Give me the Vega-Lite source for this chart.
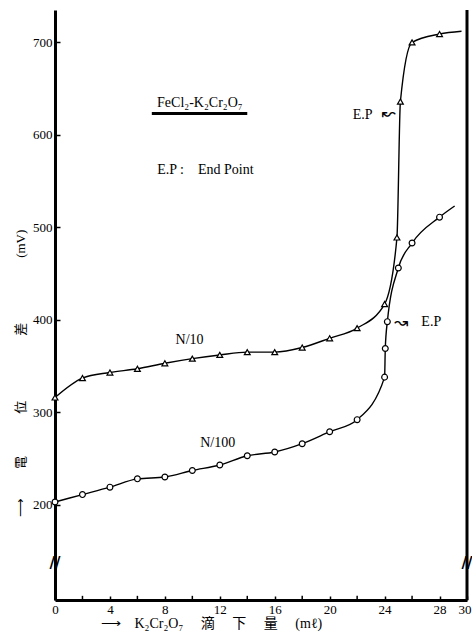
{
  "$schema": "https://vega.github.io/schema/vega-lite/v6.json",
  "width": 412,
  "height": 590,
  "autosize": {"type": "none"},
  "padding": {"left": 55, "top": 10, "right": 5, "bottom": 37},
  "background": "white",
  "config": {
    "view": {"stroke": null},
    "font": "Liberation Serif, serif",
    "axis": {"grid": false, "labelOverlap": false, "labelFlush": false, "labelBound": false}
  },
  "datasets": {
    "curves": [
      {"series": "N/10", "x": 0, "y": 316, "marker": true},
      {"series": "N/10", "x": 2, "y": 337, "marker": true},
      {"series": "N/10", "x": 4, "y": 343, "marker": true},
      {"series": "N/10", "x": 6, "y": 347, "marker": true},
      {"series": "N/10", "x": 8, "y": 353, "marker": true},
      {"series": "N/10", "x": 10, "y": 358, "marker": true},
      {"series": "N/10", "x": 12, "y": 362, "marker": true},
      {"series": "N/10", "x": 14, "y": 365, "marker": true},
      {"series": "N/10", "x": 16, "y": 365, "marker": true},
      {"series": "N/10", "x": 18, "y": 370, "marker": true},
      {"series": "N/10", "x": 20, "y": 380, "marker": true},
      {"series": "N/10", "x": 22, "y": 391, "marker": true},
      {"series": "N/10", "x": 24, "y": 417, "marker": true},
      {"series": "N/10", "x": 24.9, "y": 489, "marker": true},
      {"series": "N/10", "x": 25.15, "y": 636, "marker": true},
      {"series": "N/10", "x": 26, "y": 700, "marker": true},
      {"series": "N/10", "x": 28, "y": 709, "marker": true},
      {"series": "N/10", "x": 29.6, "y": 712, "marker": false},
      {"series": "N/100", "x": 0, "y": 203, "marker": true},
      {"series": "N/100", "x": 2, "y": 211, "marker": true},
      {"series": "N/100", "x": 4, "y": 219, "marker": true},
      {"series": "N/100", "x": 6, "y": 228, "marker": true},
      {"series": "N/100", "x": 8, "y": 230, "marker": true},
      {"series": "N/100", "x": 10, "y": 237, "marker": true},
      {"series": "N/100", "x": 12, "y": 243, "marker": true},
      {"series": "N/100", "x": 14, "y": 253, "marker": true},
      {"series": "N/100", "x": 16, "y": 257, "marker": true},
      {"series": "N/100", "x": 18, "y": 266, "marker": true},
      {"series": "N/100", "x": 20, "y": 279, "marker": true},
      {"series": "N/100", "x": 22, "y": 292, "marker": true},
      {"series": "N/100", "x": 24, "y": 338, "marker": true},
      {"series": "N/100", "x": 24.05, "y": 369, "marker": true},
      {"series": "N/100", "x": 24.2, "y": 398, "marker": true},
      {"series": "N/100", "x": 25, "y": 456, "marker": true},
      {"series": "N/100", "x": 26, "y": 483, "marker": true},
      {"series": "N/100", "x": 28, "y": 511, "marker": true},
      {"series": "N/100", "x": 29.1, "y": 523, "marker": false}
    ],
    "notes": [
      {"x": 10.55, "y": 634, "text": "FeCl₂-K₂Cr₂O₇"},
      {"x": 10.95, "y": 562, "text": "E.P :　End Point"},
      {"x": 9.8, "y": 378, "text": "N/10"},
      {"x": 11.85, "y": 267, "text": "N/100"},
      {"x": 22.4, "y": 621, "text": "E.P"},
      {"x": 27.4, "y": 398, "text": "E.P"}
    ],
    "arrows": [
      {"x": 24.3, "y": 623, "text": "↜"},
      {"x": 25.2, "y": 397, "text": "↝"}
    ],
    "underline": [
      {"x": 7.05, "x2": 14.0, "y": 623}
    ],
    "breaks": [
      {"x": 0, "y": 137},
      {"x": 30, "y": 137}
    ],
    "frame": [
      {"x": 30}
    ],
    "minor": [
      {"x": 2}, {"x": 6}, {"x": 10}, {"x": 14}, {"x": 18}, {"x": 22}, {"x": 26}
    ]
  },
  "layer": [
    {
      "data": {"name": "curves"},
      "mark": {"type": "line", "interpolate": "monotone", "color": "black", "strokeWidth": 1.4},
      "encoding": {
        "x": {
          "field": "x", "type": "quantitative",
          "scale": {"domain": [0, 30], "nice": false, "zero": false},
          "axis": {
            "values": [0, 4, 8, 12, 16, 20, 24, 28, 30],
            "labelOverlap": false, "labelBound": false,
            "labelAlign": {"condition": {"test": "datum.value == 30", "value": "right"}, "value": "center"},
            "labelOffset": {"condition": {"test": "datum.value == 30", "value": 4}, "value": 0},
            "domainWidth": 3, "domainColor": "black",
            "tickSize": -4, "tickColor": "black", "tickWidth": 1.5,
            "labelPadding": 7, "labelFontSize": 13, "labelFont": "Liberation Serif, serif", "labelColor": "black",
            "labelFlush": false,
            "title": "⟶　K₂Cr₂O₇　 滴　  下　 量　 (mℓ)",
            "titleFont": "Liberation Serif, Noto Sans CJK JP, serif",
            "titleFontSize": 14, "titleFontWeight": "normal", "titleColor": "black",
            "titleAnchor": "start", "titleAlign": "left", "titleX": 45, "titleY": 23, "titleBaseline": "middle"
          }
        },
        "y": {
          "field": "y", "type": "quantitative",
          "scale": {"domain": [97, 735], "nice": false, "zero": false},
          "axis": {
            "values": [200, 300, 400, 500, 600, 700],
            "labelOverlap": false,
            "domainWidth": 3, "domainColor": "black",
            "tickSize": -5, "tickColor": "black", "tickWidth": 1.5,
            "labelPadding": 8, "labelFontSize": 13, "labelFont": "Liberation Serif, serif", "labelColor": "black",
            "title": "⟶　　 電　　　 位　　　　　差　　　　　(mV)",
            "titleFont": "Liberation Serif, Noto Sans CJK JP, serif",
            "titleFontSize": 13, "titleFontWeight": "normal", "titleColor": "black",
            "titleAngle": -90, "titleX": -35, "titleY": 363, "titleBaseline": "middle", "titleAlign": "center"
          }
        },
        "detail": {"field": "series"}
      }
    },
    {
      "data": {"name": "curves"},
      "transform": [{"filter": "datum.marker"}],
      "mark": {"type": "point", "filled": true, "fill": "white", "stroke": "black", "strokeWidth": 1.2, "size": 34, "opacity": 1},
      "encoding": {
        "x": {"field": "x", "type": "quantitative"},
        "y": {"field": "y", "type": "quantitative"},
        "shape": {"field": "series", "type": "nominal", "scale": {"domain": ["N/10", "N/100"], "range": ["triangle-up", "circle"]}, "legend": null}
      }
    },
    {
      "data": {"name": "minor"},
      "mark": {"type": "rule", "color": "black", "strokeWidth": 1.5},
      "encoding": {
        "x": {"field": "x", "type": "quantitative"},
        "y": {"datum": 97},
        "y2": {"datum": 101.5}
      }
    },
    {
      "data": {"name": "frame"},
      "mark": {"type": "rule", "color": "black", "strokeWidth": 3},
      "encoding": {"x": {"field": "x", "type": "quantitative"}}
    },
    {
      "data": {"name": "underline"},
      "mark": {"type": "rule", "color": "black", "strokeWidth": 3},
      "encoding": {
        "x": {"field": "x", "type": "quantitative"},
        "x2": {"field": "x2"},
        "y": {"field": "y", "type": "quantitative"}
      }
    },
    {
      "data": {"name": "notes"},
      "mark": {"type": "text", "font": "Liberation Serif, serif", "fontSize": 14, "color": "black", "align": "center", "baseline": "middle"},
      "encoding": {
        "x": {"field": "x", "type": "quantitative"},
        "y": {"field": "y", "type": "quantitative"},
        "text": {"field": "text"}
      }
    },
    {
      "data": {"name": "arrows"},
      "mark": {"type": "text", "font": "DejaVu Sans", "fontSize": 17, "color": "black", "align": "center", "baseline": "middle"},
      "encoding": {
        "x": {"field": "x", "type": "quantitative"},
        "y": {"field": "y", "type": "quantitative"},
        "text": {"field": "text"}
      }
    },
    {
      "data": {"name": "breaks"},
      "mark": {"type": "text", "font": "DejaVu Sans", "fontSize": 15, "fontWeight": "bold", "color": "black", "align": "center", "baseline": "middle", "text": "//"},
      "encoding": {
        "x": {"field": "x", "type": "quantitative"},
        "y": {"field": "y", "type": "quantitative"}
      }
    }
  ]
}
